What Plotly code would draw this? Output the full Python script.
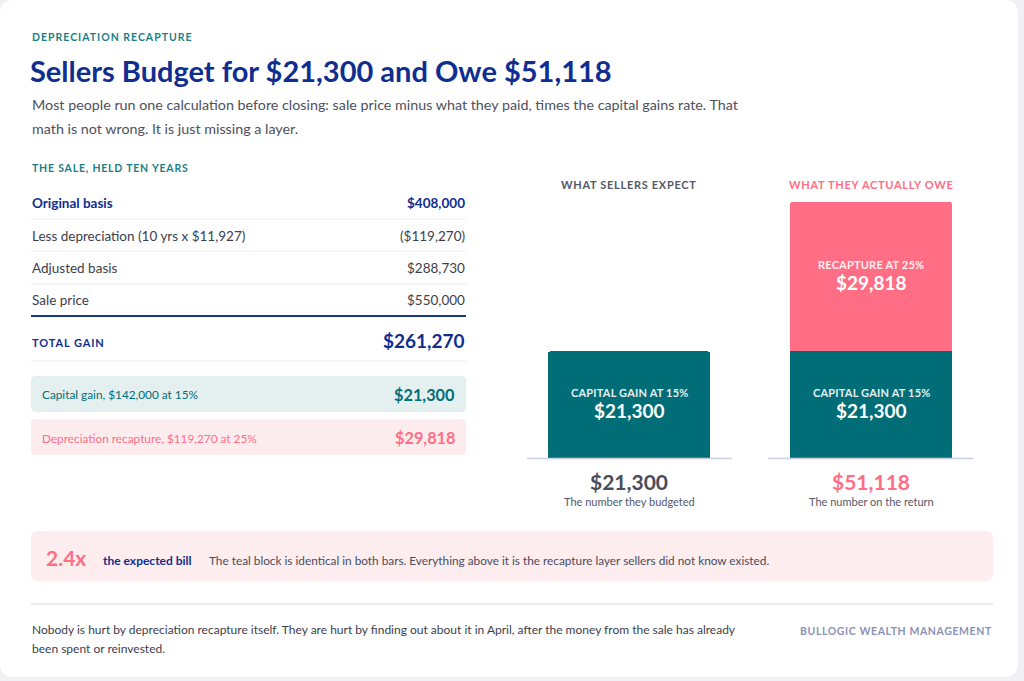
import plotly.graph_objects as go

# ---- data ----
scenarios = ["What sellers expect", "What they actually owe"]
capital_gain = [21300, 21300]
recapture = [None, 29818]
bar_labels = ["CAPITAL GAIN AT 15%", "RECAPTURE AT 25%"]
bar_captions = ["The number they budgeted", "The number on the return"]

table_labels = ["Original basis", "Less depreciation (10 yrs x $11,927)", "Adjusted basis", "Sale price"]
table_values = ["$408,000", "($119,270)", "$288,730", "$550,000"]
total_gain = "$261,270"
tax_labels = ["Capital gain, $142,000 at 15%", "Depreciation recapture, $119,270 at 25%"]
tax_values = [21300, 29818]

W, H = 1024, 681
TEAL = "#006d77"
PINK = "#ff6e84"
NAVY = "#0f2e8f"
GRAY = "#4e5060"
FONT = "Lato"


def px(x):
    return x / W


def py(y):
    return 1 - y / H


def money(v):
    return "${:,.0f}".format(v)


def spaced(t, ls):
    return f'<span style="letter-spacing:{ls}px">{t}</span>'


totals = [(a or 0) + (b or 0) for a, b in zip(capital_gain, recapture)]

fig = go.Figure()


def path_px(d):
    # pixel path -> paper coords
    out = []
    for tok in d.split():
        if "," in tok:
            a, b = tok.split(",")
            out.append(f"{px(float(a)):.5f},{py(float(b)):.5f}")
        else:
            out.append(tok)
    return " ".join(out)


def rrect(xa, ya, xb, yb, rad):
    return (f"M {xa+rad},{ya} L {xb-rad},{ya} Q {xb},{ya} {xb},{ya+rad} L {xb},{yb-rad} "
            f"Q {xb},{yb} {xb-rad},{yb} L {xa+rad},{yb} Q {xa},{yb} {xa},{yb-rad} "
            f"L {xa},{ya+rad} Q {xa},{ya} {xa+rad},{ya} Z")


# card background
fig.add_shape(type="path", path=path_px(rrect(0, 0, 1018, 677, 14)), xref="paper", yref="paper",
              fillcolor="white", line=dict(width=0), layer="below")

# ---- bars ----
fig.add_trace(go.Bar(x=scenarios, y=capital_gain, marker=dict(color=TEAL, line=dict(width=0)),
                     hoverinfo="skip", showlegend=False))
fig.add_trace(go.Bar(x=scenarios, y=recapture, marker=dict(color=PINK, line=dict(width=0)),
                     hoverinfo="skip", showlegend=False))

# labels inside bars
for i, s in enumerate(scenarios):
    mid = capital_gain[i] / 2
    fig.add_annotation(x=s, y=mid, xref="x", yref="y", text=spaced(bar_labels[0], 0.2), showarrow=False,
                       yshift=12, font=dict(family=FONT, size=11, color="#e6f0f1", weight="bold"))
    fig.add_annotation(x=s, y=mid, xref="x", yref="y", text=f"<b>{money(capital_gain[i])}</b>",
                       showarrow=False, yshift=-6, font=dict(family=FONT, size=19, color="white"))
    if recapture[i]:
        mid2 = capital_gain[i] + recapture[i] / 2
        fig.add_annotation(x=s, y=mid2, xref="x", yref="y", text=spaced(bar_labels[1], 0.2), showarrow=False,
                           yshift=12, font=dict(family=FONT, size=11, color="#fff0f2", weight="bold"))
        fig.add_annotation(x=s, y=mid2, xref="x", yref="y", text=f"<b>{money(recapture[i])}</b>",
                           showarrow=False, yshift=-6, font=dict(family=FONT, size=19, color="white"))

# headers / totals under bars
head_colors = ["#555868", PINK]
total_colors = ["#4a4c5c", PINK]
for i, s in enumerate(scenarios):
    fig.add_annotation(x=s, xref="x", y=py(184), yref="paper", yanchor="middle",
                       text=f"<b>{spaced(s.upper(), 0.7)}</b>",
                       showarrow=False, font=dict(family=FONT, size=11, color=head_colors[i]))
    fig.add_annotation(x=s, xref="x", y=py(481), yref="paper", yanchor="middle",
                       text=f"<b>{money(totals[i])}</b>",
                       showarrow=False, font=dict(family=FONT, size=21, color=total_colors[i]))
    fig.add_annotation(x=s, xref="x", y=py(502), yref="paper", yanchor="middle", text=bar_captions[i],
                       showarrow=False, font=dict(family=FONT, size=11, color="#555868"))

# baselines
for xa, xb in [(527, 732), (768, 973)]:
    fig.add_shape(type="line", xref="paper", yref="paper", x0=px(xa), x1=px(xb),
                  y0=py(458.5), y1=py(458.5), line=dict(color="#c8d0e2", width=1.5))


def text(x, y, t, size, color, anchor="left", bold=False):
    fig.add_annotation(x=px(x), y=py(y), xref="paper", yref="paper", text=f"<b>{t}</b>" if bold else t,
                       showarrow=False, xanchor=anchor, yanchor="middle",
                       font=dict(family=FONT, size=size, color=color))


# ---- header ----
text(30, 37, spaced("DEPRECIATION RECAPTURE", 1.0), 10.5, "#1a7f86", bold=True)
text(28, 70, "Sellers Budget for $21,300 and Owe $51,118", 29, NAVY, bold=True)
text(30, 105, "Most people run one calculation before closing: sale price minus what they paid, times the capital gains rate. That",
     14.3, GRAY)
text(30, 128, "math is not wrong. It is just missing a layer.", 14.3, GRAY)

# ---- table ----
text(30, 168, spaced("THE SALE, HELD TEN YEARS", 0.8), 10.5, "#1a7f86", bold=True)
row_y = [203, 236, 268, 300]
for i, (lab, val) in enumerate(zip(table_labels, table_values)):
    first = i == 0
    text(30, row_y[i], lab, 13.5, NAVY if first else "#3c3e4c", bold=first)
    text(467, row_y[i], val, 13.5, NAVY if first else "#3c3e4c", anchor="right", bold=first)
for ly in [219, 251, 284, 361]:
    fig.add_shape(type="line", xref="paper", yref="paper", x0=px(31), x1=px(466), y0=py(ly), y1=py(ly),
                  line=dict(color="#ececf2", width=1))
fig.add_shape(type="line", xref="paper", yref="paper", x0=px(31), x1=px(466), y0=py(316), y1=py(316),
              line=dict(color="#1b3590", width=2))
text(30, 342, spaced("TOTAL GAIN", 0.9), 11, NAVY, bold=True)
text(467, 340, total_gain, 19, NAVY, anchor="right", bold=True)

box_fill = ["#e3f0ef", "#fdecee"]
box_text = [TEAL, PINK]
box_y = [(376, 412), (419, 455)]
for i in range(2):
    ya, yb = box_y[i]
    fig.add_shape(type="path", path=path_px(rrect(31, ya, 466, yb, 5)), xref="paper", yref="paper",
                  fillcolor=box_fill[i], line=dict(width=0), layer="below")
    text(40, (ya + yb) / 2 + 1, tax_labels[i], 11.8, box_text[i])
    text(457, (ya + yb) / 2, money(tax_values[i]), 16.3, box_text[i], anchor="right", bold=True)

# ---- callout ----
fig.add_shape(type="path", path=path_px(rrect(31, 531, 993, 581, 7)), xref="paper", yref="paper",
              fillcolor="#fdedef", line=dict(width=0), layer="below")
ratio = totals[1] / totals[0]
text(44, 557, f"{ratio:.1f}x", 21, PINK, bold=True)
text(101, 560, "the expected bill", 12, NAVY, bold=True)
text(207, 560, "The teal block is identical in both bars. Everything above it is the recapture layer sellers did not know existed.",
     11.8, "#4a4c5c")

# ---- footer ----
fig.add_shape(type="line", xref="paper", yref="paper", x0=px(31), x1=px(993), y0=py(604), y1=py(604),
              line=dict(color="#e4e6f0", width=1.5))
text(30, 629, "Nobody is hurt by depreciation recapture itself. They are hurt by finding out about it in April, after the money from the sale has already",
     12, "#3c3e4c")
text(30, 648, "been spent or reinvested.", 12, "#3c3e4c")
text(994, 631, spaced("BULLOGIC WEALTH MANAGEMENT", 0.6), 10.5, "#8a93b8", anchor="right", bold=True)

fig.update_layout(
    width=W, height=H,
    margin=dict(l=0, r=0, t=0, b=0),
    paper_bgcolor="#f1f1f5",
    plot_bgcolor="rgba(0,0,0,0)",
    barmode="stack",
    bargap=0.33,
    barcornerradius=3,
    font=dict(family=FONT),
    xaxis=dict(domain=[px(508), px(992)], visible=False, range=[-0.5, 1.5], fixedrange=True),
    yaxis=dict(domain=[py(458), py(202)], visible=False, range=[0, max(totals)], fixedrange=True),
)

fig.write_html("out.html", config={"displayModeBar": False},
               post_script="document.body.style.margin='0';")
